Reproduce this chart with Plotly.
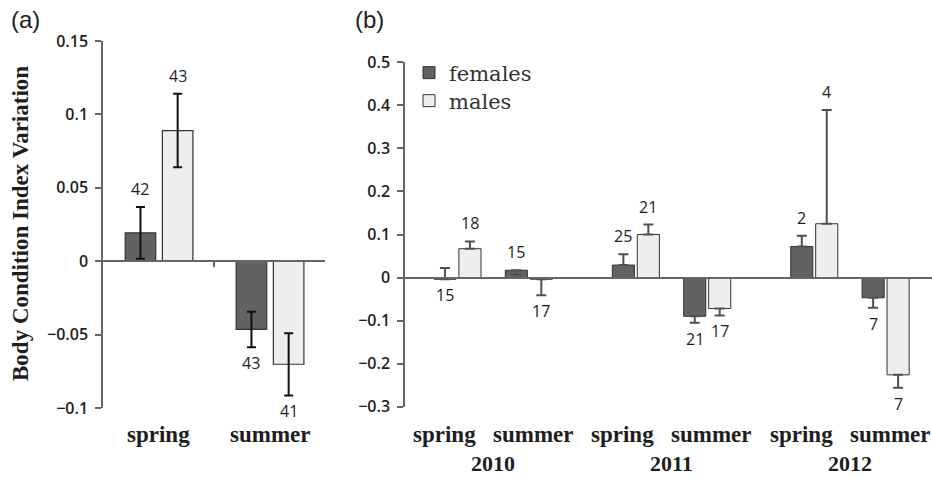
import plotly.graph_objects as go

# ---------------- data ----------------
seasons = ["spring", "summer"]
years = ["2010", "2011", "2012"]

# panel (a): pooled seasons
a_fem = [0.0193, -0.0465]
a_fem_err = [0.0177, 0.0121]
a_male = [0.089, -0.0702]
a_male_err = [0.025, 0.0212]
a_fem_n = [42, 43]
a_male_n = [43, 41]

# panel (b): per year and season (2010 spring, 2010 summer, 2011 spring, ...)
b_fem = [-0.004, 0.017, 0.029, -0.090, 0.072, -0.047]
b_fem_plus = [0.026, 0.0, 0.025, 0.0, 0.025, 0.0]
b_fem_minus = [0.0, 0.010, 0.0, 0.015, 0.0, 0.023]
b_male = [0.067, -0.004, 0.100, -0.072, 0.125, -0.226]
b_male_plus = [0.017, 0.0, 0.023, 0.0, 0.264, 0.0]
b_male_minus = [0.0, 0.037, 0.0, 0.016, 0.0, 0.030]
b_fem_n = [15, 15, 25, 21, 2, 7]
b_male_n = [18, 17, 21, 17, 4, 7]

FEM_COL = "#626262"
MALE_COL = "#eeeeee"
EDGE = "#333333"
AXIS = "#666666"
TXT = "#1e1e1e"
W, H = 932, 477

# ---------------- geometry ----------------
a_x = list(range(len(seasons)))
a_width, a_off = 0.275, [-0.30, 0.035]
b_pos = [yi * 5 + si * 2 for yi in range(len(years)) for si in range(len(seasons))]
b_width, b_off = 0.62, [-0.66, 0.04]

a_yr = [-0.1, 0.15]
b_yr = [-0.3, 0.5]
a_dom_y = [1 - 408 / H, 1 - 41 / H]
b_dom_y = [1 - 406.7 / H, 1 - 62.3 / H]
a_dom_x = [103 / W, 325 / W]
b_dom_x = [405 / W, 1.0]


def zero_pos(rng, dom):
    return dom[0] + (0 - rng[0]) / (rng[1] - rng[0]) * (dom[1] - dom[0])


fig = go.Figure()

# panel (a) bars
fig.add_trace(go.Bar(
    x=a_x, y=a_fem, width=a_width, offset=a_off[0], xaxis="x", yaxis="y",
    marker=dict(color=FEM_COL, line=dict(color=EDGE, width=1.2)),
    error_y=dict(type="data", array=a_fem_err, color="#111111", thickness=2, width=4.5),
    name="females", showlegend=False, hoverinfo="skip"))
fig.add_trace(go.Bar(
    x=a_x, y=a_male, width=a_width, offset=a_off[1], xaxis="x", yaxis="y",
    marker=dict(color=MALE_COL, line=dict(color=EDGE, width=1.2)),
    error_y=dict(type="data", array=a_male_err, color="#111111", thickness=2, width=4.5),
    name="males", showlegend=False, hoverinfo="skip"))

# panel (b) bars
fig.add_trace(go.Bar(
    x=b_pos, y=b_fem, width=b_width, offset=b_off[0], xaxis="x2", yaxis="y2",
    marker=dict(color=FEM_COL, line=dict(color=EDGE, width=1)),
    error_y=dict(type="data", symmetric=False, array=b_fem_plus, arrayminus=b_fem_minus,
                 color="#505050", thickness=2, width=5),
    name="females", legend="legend", hoverinfo="skip"))
fig.add_trace(go.Bar(
    x=b_pos, y=b_male, width=b_width, offset=b_off[1], xaxis="x2", yaxis="y2",
    marker=dict(color=MALE_COL, line=dict(color=EDGE, width=1)),
    error_y=dict(type="data", symmetric=False, array=b_male_plus, arrayminus=b_male_minus,
                 color="#505050", thickness=2, width=5),
    name="males", legend="legend2", hoverinfo="skip"))

annotations = []
NFONT = dict(family="Open Sans", size=16, color=TXT)
SHIFT_UP, SHIFT_DOWN = 18, 16


def n_label(xref, yref, x, val, plus, minus, n):
    if val >= 0:
        y, ys = val + plus, SHIFT_UP
    else:
        y, ys = val - minus, -SHIFT_DOWN
    annotations.append(dict(x=x, y=y, xref=xref, yref=yref, text=str(n), showarrow=False,
                            yshift=ys, font=NFONT, xanchor="center", yanchor="middle"))


for i in range(len(seasons)):
    n_label("x", "y", a_x[i] + a_off[0] + a_width / 2, a_fem[i], a_fem_err[i], a_fem_err[i], a_fem_n[i])
    n_label("x", "y", a_x[i] + a_off[1] + a_width / 2, a_male[i], a_male_err[i], a_male_err[i], a_male_n[i])
for i in range(len(b_pos)):
    n_label("x2", "y2", b_pos[i] + b_off[0] + b_width / 2, b_fem[i], b_fem_plus[i], b_fem_minus[i], b_fem_n[i])
    n_label("x2", "y2", b_pos[i] + b_off[1] + b_width / 2, b_male[i], b_male_plus[i], b_male_minus[i], b_male_n[i])

SFONT = dict(family="Liberation Serif", size=23, color=TXT, weight="bold")
season_y = 1 - 434 / H
year_y = 1 - 463 / H
for i, s in enumerate(seasons):
    annotations.append(dict(x=a_x[i], y=season_y, xref="x", yref="paper", text=s, showarrow=False,
                            font=SFONT, xanchor="center", yanchor="middle"))
for i, p in enumerate(b_pos):
    s = seasons[i % len(seasons)]
    annotations.append(dict(x=p, y=season_y, xref="x2", yref="paper", text=s, showarrow=False,
                            font=SFONT, xanchor="center", yanchor="middle",
                            xshift=-13 if s == "spring" else 4))
for yi, yr in enumerate(years):
    center = (b_pos[yi * 2] + b_pos[yi * 2 + 1]) / 2
    annotations.append(dict(x=center, y=year_y, xref="x2", yref="paper", text=yr, showarrow=False,
                            font=dict(family="Liberation Serif", size=22, color=TXT, weight="bold"),
                            xanchor="center", yanchor="middle"))

annotations.append(dict(x=21 / W, y=1 - 224 / H, xref="paper", yref="paper",
                        text="Body Condition Index Variation", textangle=-90, showarrow=False,
                        font=dict(family="Liberation Serif", size=23, color=TXT, weight="bold"),
                        xanchor="center", yanchor="middle"))
annotations.append(dict(x=9 / W, y=1 - 19 / H, xref="paper", yref="paper", text="(a)",
                        showarrow=False, font=dict(family="Liberation Sans", size=24, color=TXT),
                        xanchor="left", yanchor="middle"))
annotations.append(dict(x=353 / W, y=1 - 19 / H, xref="paper", yref="paper", text="(b)",
                        showarrow=False, font=dict(family="Liberation Sans", size=24, color=TXT),
                        xanchor="left", yanchor="middle"))

TICKFONT = dict(family="Open Sans", size=16, color=TXT, weight=600)
LEGFONT = dict(family="DejaVu Serif", size=21, color="#333333")

fig.update_layout(
    width=W, height=H, margin=dict(l=0, r=0, t=0, b=0, pad=0, autoexpand=False),
    paper_bgcolor="white", plot_bgcolor="white",
    barmode="group",
    annotations=annotations,
    xaxis=dict(domain=a_dom_x, range=[-0.5, 1.5], anchor="free",
               position=zero_pos(a_yr, a_dom_y), showline=True, linecolor=AXIS, linewidth=1.5,
               tickvals=[(a_x[0] + a_x[1]) / 2], ticks="outside", ticklen=5, tickcolor=AXIS,
               tickwidth=1.5, showticklabels=False, showgrid=False, zeroline=False,
               fixedrange=True, automargin=False),
    yaxis=dict(domain=a_dom_y, range=a_yr, dtick=0.05, tick0=0, showline=True,
               linecolor=AXIS, linewidth=1.5, ticks="outside", ticklen=6, tickcolor=AXIS,
               tickwidth=1.5, tickfont=TICKFONT, showgrid=False, zeroline=False,
               anchor="x", ticklabelstandoff=4, fixedrange=True, automargin=False),
    xaxis2=dict(domain=b_dom_x, range=[-1.47, 13.3], anchor="free",
                position=zero_pos(b_yr, b_dom_y), showline=True, linecolor=AXIS, linewidth=1.5,
                ticks="", showticklabels=False, showgrid=False, zeroline=False, fixedrange=True,
                automargin=False),
    yaxis2=dict(domain=b_dom_y, range=b_yr, dtick=0.1, tick0=0, showline=True,
                linecolor=AXIS, linewidth=1.5, ticks="outside", ticklen=6, tickcolor=AXIS,
                tickwidth=1.5, tickfont=TICKFONT, showgrid=False, zeroline=False,
                anchor="x2", ticklabelstandoff=4, fixedrange=True, automargin=False),
    legend=dict(x=409 / W, y=1 - 73 / H, xanchor="left", yanchor="middle", font=LEGFONT,
                bgcolor="rgba(0,0,0,0)", borderwidth=0),
    legend2=dict(x=409 / W, y=1 - 101 / H, xanchor="left", yanchor="middle", font=LEGFONT,
                 bgcolor="rgba(0,0,0,0)", borderwidth=0),
    showlegend=True,
)

fig.write_html("out.html", config={"displayModeBar": False},
               post_script="document.body.style.margin='0';document.body.style.overflow='hidden';")
